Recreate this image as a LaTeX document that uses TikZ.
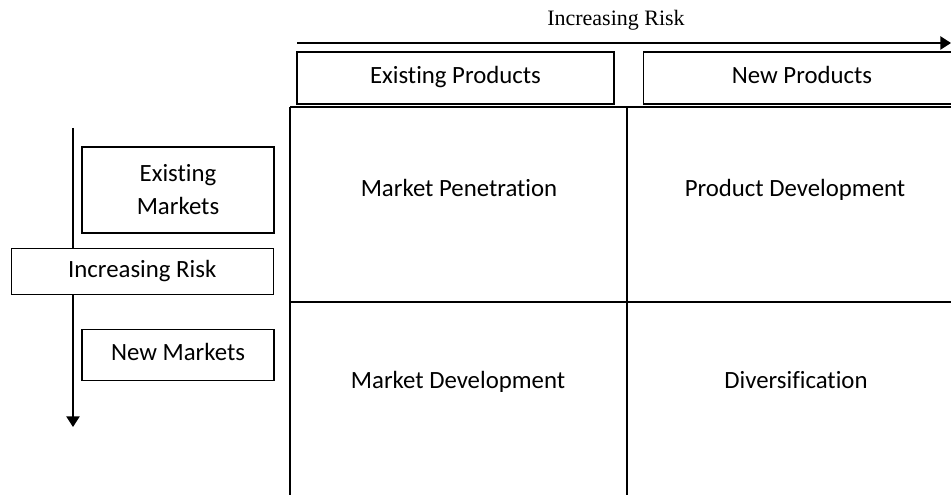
\documentclass[tikz,border=0pt]{standalone}
\usepackage{fontspec}
\setmainfont{Carlito}[Ligatures={NoCommon,NoContextual}]
\newfontfamily\riskfont{Liberation Serif}
\usetikzlibrary{positioning,arrows.meta}

\tikzset{
  hdr/.style={draw, fill=white, inner sep=0pt, align=center},
  one/.style={text height=12.5pt, text depth=4pt},
  risk/.style={-{Triangle[width=10pt,length=8pt]}},
}

\begin{document}
\begin{tikzpicture}[x=0.75pt, y=-0.75pt, line width=1.1pt,
    font=\fontsize{18.6}{23}\selectfont]
      \useasboundingbox (0,0) rectangle (951,495);
      \clip (0,0) rectangle (951,495);

      \node[font=\riskfont\fontsize{16.5}{19}\selectfont, anchor=base] (t1) at (616,26) {Increasing Risk};
      \coordinate (a1) at (297,43);
      \coordinate (a2) at (951,43);
      \draw[risk] (a1) -- (a2);

      \node[hdr, one, minimum width=237.75pt, minimum height=39pt] (p1) at (455.5,78) {Existing Products};
      \node[hdr, one, minimum width=237.75pt, minimum height=39pt, right=21pt of p1] (p2) {New Products};

      \draw (290,107) -- (960,107);
      \draw (290,302) -- (960,302);
      \draw (290,107) -- (290,500);
      \draw (627,107) -- (627,500);

      \node[anchor=base] (c1) at (459,197) {Market Penetration};
      \node[anchor=base] (c2) at (795,197) {Product Development};
      \node[anchor=base] (c3) at (458,389) {Market Development};
      \node[anchor=base] (c4) at (796,389) {Diversification};

      \coordinate (b1) at (73,128);
      \coordinate (b2) at (73,427);
      \draw[risk] (b1) -- (b2);

      \node[hdr, minimum width=144pt, minimum height=64.5pt, font=\fontsize{18.6}{24.75}\selectfont] (m1) at (178,190) {Existing\\Markets};
      \node[hdr, one, minimum width=196.5pt, minimum height=34.5pt, anchor=north east] (m2) at (274,248) {Increasing Risk};
      \node[hdr, one, minimum width=144pt, minimum height=38.25pt, below=71.25pt of m1] (m3) {New Markets};
\end{tikzpicture}
\end{document}
